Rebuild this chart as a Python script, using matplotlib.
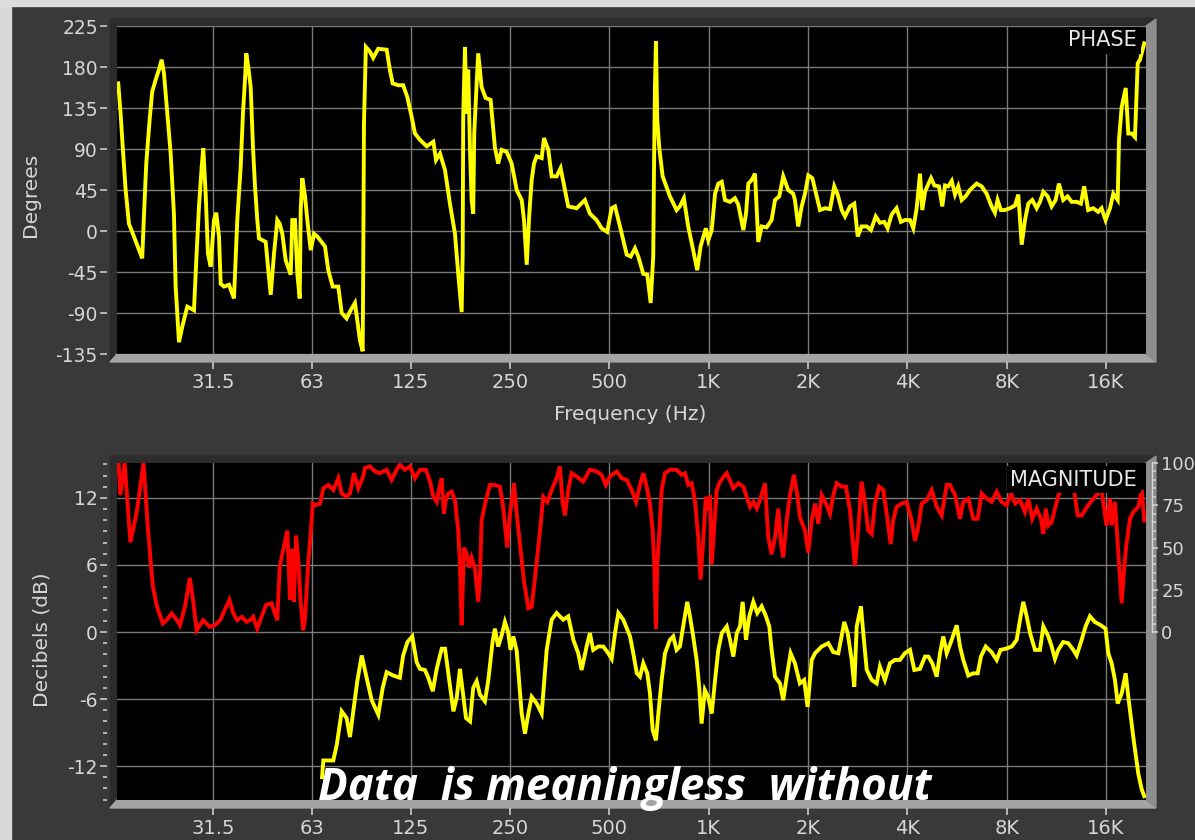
import numpy as np
import matplotlib
matplotlib.use("Agg")
import matplotlib.pyplot as plt
from matplotlib.patches import Polygon, Rectangle
from matplotlib.ticker import FixedLocator, NullLocator, MultipleLocator

# (Hz, degrees)
phase_points = [
    (16.26, 162), (16.53, 129), (16.80, 89), (17.12, 45), (17.52, 8), (18.14, -6), (19.22, -30),
    (19.45, 16), (19.77, 74), (20.24, 122), (20.61, 153), (21.11, 166), (21.60, 177), (22.01, 188),
    (22.37, 173), (22.89, 129), (23.44, 85), (23.98, 19), (24.27, -61), (24.84, -122), (25.42, -105),
    (26.32, -83), (27.58, -87), (28.03, -32), (28.56, 27), (29.10, 70), (29.43, 91), (29.92, 41),
    (30.41, -25), (30.99, -39), (31.71, 12), (32.22, 20), (32.84, -6), (33.23, -58), (34.00, -61),
    (35.21, -59), (36.46, -74), (37.31, 12), (38.20, 70), (38.82, 129), (39.37, 166), (39.73, 195),
    (40.29, 180), (40.97, 158), (41.63, 92), (42.22, 49), (42.90, 12), (43.41, -8), (44.42, -10),
    (45.49, -12), (46.32, -43), (47.11, -70), (48.20, -25), (49.33, 12), (50.16, 8), (51.08, -3),
    (52.30, -32), (54.16, -48), (54.77, 12), (55.81, 12), (56.72, -47), (57.68, -74), (58.08, 23),
    (58.73, 58), (59.85, 38), (60.82, 12), (62.28, -21), (63.73, -3), (65.22, -6), (68.8, -17),
    (70.4, -43), (72.6, -61), (75.5, -61), (77.3, -90), (80.0, -96), (82.3, -87), (84.8, -79),
    (86.2, -98), (87.8, -120), (89.5, -132), (89.8, -50), (90.3, 118), (91.5, 202), (94.1, 197),
    (96.3, 190), (99.7, 200), (105.8, 199), (108.2, 177), (110.3, 162), (114.7, 160), (118.7, 160),
    (122.2, 147), (126.0, 125), (128.9, 107), (133.5, 100), (139.9, 93), (146.5, 98), (149.3, 78),
    (153.5, 85), (158.9, 67), (164.5, 30), (170.4, -3), (174.3, -47), (178.5, -89), (179.8, -25),
    (180.5, 126), (182.7, 202), (184.8, 129), (186.9, 177), (189.1, 92), (191.4, 34), (193.5, 19),
    (194.9, 107), (198.2, 162), (200.4, 195), (205.2, 158), (211.0, 146), (218.5, 144), (225.1, 92),
    (230.3, 74), (235.9, 89), (244.2, 87), (253.1, 74), (262.1, 45), (271.4, 34), (275.8, 12),
    (281.1, -37), (286.2, 19), (291.0, 56), (295.7, 74), (301.3, 82), (312.0, 80), (317.1, 102),
    (326.8, 89), (334.5, 60), (346.3, 60), (356.1, 69), (367.0, 45), (375.5, 27), (398.1, 25),
    (421.8, 34), (436.8, 19), (457.6, 12), (473.9, 3), (492.7, -1), (508.6, 25), (520.4, 27),
    (538.9, 5), (564.7, -26), (580.6, -28), (598.3, -19), (612.2, -28), (634.0, -47), (651.9, -48),
    (667.4, -79), (679.5, -28), (682.9, 63), (687.7, 158), (692.5, 208), (698.8, 122), (708.5, 92),
    (725.6, 60), (742.4, 50), (763.4, 38), (799.8, 23), (818.4, 27), (841.6, 36), (867.2, 5),
    (898.0, -21), (923.5, -43), (945.4, -17), (981.1, 3), (997.8, -10), (1022, 1), (1046, 41),
    (1070, 52), (1096, 54), (1121, 34), (1161, 32), (1202, 36), (1230, 29), (1274, 1), (1298, 19),
    (1319, 52), (1351, 56), (1382, 63), (1414, -12), (1448, 5), (1499, 4), (1552, 12), (1589, 34),
    (1637, 38), (1683, 60), (1742, 45), (1804, 41), (1826, 34), (1869, 5), (1914, 27), (1959, 41),
    (2005, 61), (2062, 58), (2126, 38), (2175, 23), (2252, 25), (2333, 24), (2403, 49), (2461, 40),
    (2531, 23), (2590, 16), (2682, 27), (2763, 30), (2830, -6), (2909, 5), (3014, 5), (3104, 1),
    (3209, 16), (3304, 9), (3406, 10), (3486, 3), (3585, 18), (3711, 25), (3826, 10), (3932, 12),
    (4076, 12), (4171, 3), (4271, 25), (4370, 63), (4440, 23), (4526, 43), (4611, 50), (4719, 58),
    (4830, 50), (4990, 49), (5105, 27), (5203, 50), (5324, 49), (5453, 55), (5580, 40), (5706, 49),
    (5846, 34), (6008, 38), (6191, 45), (6488, 52), (6719, 49), (6956, 41), (7200, 27), (7371, 20),
    (7510, 34), (7683, 23), (7900, 23), (8189, 25), (8479, 28), (8677, 40), (8885, -15), (9091, 12),
    (9304, 30), (9566, 34), (9864, 25), (10094, 32), (10330, 43), (10652, 38), (10949, 27),
    (11258, 34), (11521, 52), (11870, 34), (12240, 38), (12587, 32), (13036, 32), (13428, 30),
    (13740, 49), (14130, 23), (14630, 25), (15148, 21), (15512, 25), (15949, 12), (16452, 25),
    (16834, 41), (17359, 34), (17518, 100), (17849, 136), (18357, 157), (18692, 107), (19138, 107),
    (19583, 103), (19960, 184), (20281, 188), (20897, 206),
]

# (Hz, dB) yellow MAGNITUDE trace, left axis
mag_points = [
    (67.4, -13), (68.0, -11.5), (72.9, -11.5), (74.7, -10.1), (77.3, -7.1), (80.0, -7.7),
    (81.9, -9.4), (83.8, -7.1), (86.2, -4.4), (88.9, -2.1), (92.0, -4.1), (95.3, -6.1),
    (99.8, -7.4), (102.9, -5.0), (105.8, -3.6), (110.8, -3.9), (116.0, -4.1), (118.7, -2.1),
    (122.3, -0.9), (126.5, -0.4), (130.4, -2.7), (133.5, -3.3), (138.2, -3.4), (141.5, -4.1),
    (145.9, -5.3), (150.0, -3.3), (155.3, -1.5), (159.0, -1.5), (163.8, -4.4), (168.5, -7.1),
    (172.5, -5.9), (176.4, -3.3), (179.8, -5.3), (184.0, -7.7), (189.3, -8.0), (193.5, -5.0),
    (198.2, -4.4), (202.8, -5.6), (210.0, -6.2), (214.8, -4.4), (221.5, -0.9), (225.1, 0.3),
    (230.3, -1.3), (235.9, -0.3), (241.4, 0.9), (246.8, 0.0), (251.1, -1.6), (256.0, -0.4),
    (262.1, -1.7), (271.4, -7.3), (277.7, -9.1), (284.3, -7.3), (291.0, -5.8), (301.4, -6.4),
    (312.0, -7.3), (323.1, -1.6), (334.5, 1.1), (346.3, 1.7), (362.6, 1.1), (375.5, 1.4),
    (389.1, -0.7), (402.7, -1.9), (412.3, -3.4), (426.9, -1.3), (436.8, -0.1), (447.0, -1.6),
    (462.7, -1.3), (479.6, -1.3), (496.4, -1.9), (508.6, -2.4), (520.4, -0.1), (532.7, 1.7),
    (551.4, 1.1), (578.1, -0.4), (591.2, -1.9), (605.8, -3.7), (619.6, -4.0), (634.0, -2.8),
    (651.9, -3.7), (664.2, -5.5), (676.9, -8.8), (692.5, -9.7), (704.1, -7.3), (720.6, -4.3),
    (737.6, -1.9), (763.4, -0.7), (781.2, -0.4), (799.8, -1.6), (818.4, -1.3), (837.6, 0.5),
    (861.3, 2.7), (878.0, 1.4), (898.0, -0.4), (919.8, -2.5), (936.4, -4.9), (952.1, -8.2),
    (974.2, -5.2), (996.6, -5.8), (1022, -7.3), (1046, -4.3), (1070, -1.6), (1096, -0.1),
    (1135, 0.5), (1161, -0.7), (1188, -2.2), (1217, -0.1), (1245, 0.5), (1268, 2.7), (1298, -0.7),
    (1328, 1.4), (1366, 2.7), (1404, 1.7), (1448, 2.3), (1492, 1.4), (1527, 0.5), (1552, -1.6),
    (1589, -4.0), (1645, -4.6), (1683, -6.1), (1731, -3.7), (1772, -1.9), (1826, -2.8),
    (1890, -4.6), (1948, -4.3), (1995, -6.7), (2053, -2.5), (2101, -1.9), (2201, -1.3),
    (2305, -1.0), (2386, -1.8), (2472, -1.9), (2577, 0.9), (2639, -0.1), (2713, -2.5),
    (2763, -4.9), (2810, 0.5), (2895, 2.3), (2942, -0.1), (3014, -3.4), (3121, -4.3),
    (3229, -4.6), (3304, -3.1), (3421, -4.3), (3544, -2.8), (3667, -2.5), (3800, -2.5),
    (3932, -1.9), (4076, -1.6), (4201, -3.4), (4370, -3.3), (4526, -2.2), (4633, -2.2),
    (4762, -2.8), (4911, -4.0), (5024, -1.9), (5141, -0.4), (5266, -1.9), (5453, -0.7),
    (5645, 0.6), (5778, -1.3), (5911, -2.5), (6121, -3.9), (6338, -3.7), (6536, -3.7),
    (6685, -2.2), (6911, -1.3), (7201, -1.8), (7463, -2.5), (7665, -1.6), (7944, -1.5),
    (8290, -1.3), (8580, -0.7), (8782, 1.1), (8983, 2.7), (9201, 1.4), (9419, -0.1),
    (9749, -1.6), (10094, -1.6), (10330, 0.5), (10701, -0.4), (10951, -1.3), (11209, -2.4),
    (11467, -1.6), (11870, -0.9), (12298, -1.0), (12733, -1.6), (13036, -2.1), (13499, -0.7),
    (13878, 0.5), (14298, 1.4), (14805, 0.9), (15435, 0.6), (15949, 0.3), (16257, -1.9),
    (16644, -2.8), (17031, -4.3), (17359, -6.4), (17849, -5.5), (18357, -3.7), (18692, -5.8),
    (19354, -9.4), (20047, -12.7), (20531, -14.1), (20897, -14.7),
]

# (Hz, 0-100) red trace, right axis
coh_points = [
    (16.3, 100), (16.5, 81), (17.0, 100), (17.7, 53), (18.5, 71), (19.4, 100), (20.0, 61),
    (20.7, 27), (21.3, 15), (22.2, 5), (22.8, 7), (23.6, 11), (24.3, 8), (25.0, 4), (25.9, 15),
    (26.8, 32), (27.4, 19), (28.1, 1), (29.4, 7), (30.8, 3), (31.9, 4), (33.1, 7), (34.0, 12),
    (35.3, 19), (36.3, 11), (37.3, 7), (38.5, 9), (39.8, 6), (40.8, 7), (41.7, 9), (42.9, 2),
    (44.2, 9), (45.6, 16), (47.4, 17), (48.5, 11), (49.3, 7), (50.2, 39), (51.7, 51), (52.9, 60),
    (53.9, 19), (54.7, 49), (55.4, 18), (56.2, 57), (57.1, 43), (58.0, 19), (59.1, 1), (59.8, 7),
    (61.2, 41), (62.2, 57), (63.2, 76), (64.2, 75), (66.5, 76), (68.0, 85), (70.4, 87), (72.9, 84),
    (75.5, 91), (77.3, 82), (80.0, 80), (81.9, 82), (84.2, 94), (86.8, 85), (89.8, 92), (90.9, 97),
    (94.2, 98), (97.5, 95), (100.9, 94), (105.8, 96), (109.5, 90), (113.4, 96), (116.0, 99),
    (120.1, 96), (124.4, 98), (128.9, 91), (133.5, 96), (139.2, 96), (143.2, 89), (146.5, 80),
    (150.0, 77), (152.7, 85), (155.3, 91), (157.8, 70), (159.7, 78), (162.6, 82), (166.5, 83),
    (170.4, 78), (174.3, 60), (176.4, 40), (178.5, 4), (181.4, 50), (184.9, 46), (188.3, 38),
    (191.4, 44), (195.8, 38), (200.4, 18), (202.8, 32), (205.2, 66), (211.4, 78), (217.4, 87),
    (225.1, 87), (233.1, 86), (238.5, 74), (245.2, 50), (250.2, 70), (257.3, 88), (262.1, 70),
    (268.2, 52), (275.8, 30), (284.3, 14), (291.0, 15), (297.8, 32), (308.4, 60), (315.5, 80),
    (324.5, 77), (334.5, 84), (346.3, 91), (354.4, 98), (361.3, 76), (367.0, 69), (375.5, 84),
    (384.5, 94), (398.1, 92), (416.8, 89), (436.8, 96), (457.6, 95), (473.9, 93), (488.3, 87),
    (502.0, 92), (526.6, 95), (545.2, 91), (564.7, 90), (584.8, 84), (602.6, 77), (619.6, 87),
    (634.0, 94), (649.1, 86), (664.2, 76), (676.9, 60), (684.4, 40), (692.5, 2), (698.8, 40),
    (708.5, 58), (720.6, 84), (737.6, 94), (763.4, 96), (799.8, 96), (828.4, 93), (848.1, 94),
    (867.2, 87), (888.4, 88), (908.9, 78), (930.1, 56), (945.4, 31), (962.9, 54), (981.1, 80),
    (996.6, 72), (1010, 81), (1022, 40), (1038, 60), (1058, 84), (1083, 89), (1121, 93),
    (1135, 94), (1188, 85), (1230, 88), (1274, 86), (1304, 80), (1335, 74), (1366, 77),
    (1399, 73), (1431, 78), (1482, 88), (1516, 56), (1552, 46), (1589, 56), (1626, 73),
    (1653, 54), (1683, 44), (1723, 66), (1764, 81), (1813, 93), (1857, 81), (1890, 68),
    (1959, 60), (2004, 47), (2053, 66), (2101, 76), (2149, 64), (2201, 81), (2268, 76),
    (2333, 70), (2386, 81), (2444, 88), (2531, 86), (2607, 86), (2682, 72), (2732, 54),
    (2777, 39), (2842, 62), (2909, 89), (2978, 76), (3046, 60), (3121, 58), (3191, 76),
    (3288, 86), (3383, 84), (3463, 70), (3562, 52), (3624, 66), (3711, 74), (3842, 76),
    (3979, 77), (4125, 66), (4221, 54), (4318, 62), (4423, 76), (4580, 78), (4742, 84),
    (4911, 74), (5084, 69), (5266, 87), (5387, 87), (5580, 81), (5778, 67), (5911, 77),
    (6121, 79), (6338, 67), (6536, 67), (6717, 82), (6955, 79), (7201, 77), (7463, 83),
    (7721, 77), (8000, 75), (8249, 82), (8483, 76), (8782, 78), (9088, 71), (9306, 79),
    (9564, 67), (9862, 73), (10161, 67), (10330, 58), (10507, 73), (10701, 63), (10951, 65),
    (11209, 73), (11523, 82), (11870, 84), (12298, 84), (12676, 90), (13128, 69), (13499, 69),
    (14128, 75), (14805, 80), (15515, 84), (16055, 63), (16451, 79), (16644, 63), (17031, 77),
    (17434, 47), (17849, 17), (18176, 39), (18483, 53), (18918, 67), (19354, 71), (20047, 74),
    (20531, 84), (20897, 66),
]

freq_ticks = [31.5, 63, 125, 250, 500, 1000, 2000, 4000, 8000, 16000]
freq_labels = ["31.5", "63", "125", "250", "500", "1K", "2K", "4K", "8K", "16K"]
phase_ticks = [-135, -90, -45, 0, 45, 90, 135, 180, 225]
db_ticks = [-12, -6, 0, 6, 12]
coh_ticks = [0, 25, 50, 75, 100]
coh_minor = [v for v in range(5, 100, 5) if v % 25]

phase_hz, phase_deg = np.array(phase_points).T
mag_hz, mag_db = np.array(mag_points).T
coh_hz, coh_val = np.array(coh_points).T

W, H = 1195, 840
TEXT = "#d6d6d6"
GRID = "#7a7a7a"
YELLOW = "#ffff00"
RED = "#ff0000"
LW = 2.8

plt.rcParams["font.family"] = ["DejaVu Sans"]
plt.rcParams["axes.unicode_minus"] = False

fig = plt.figure(figsize=(W / 100, H / 100), dpi=100, facecolor="#393939")

# backdrop: light page edge and the 3d frames behind each plot
bg = fig.add_axes([0, 0, 1, 1], zorder=-5)
bg.set_xlim(0, W)
bg.set_ylim(H, 0)
bg.axis("off")
bg.add_patch(Rectangle((0, 0), 11, H, color="#d8d8d8"))
bg.add_patch(Rectangle((0, 0), W, 6, color="#dcdcdc"))


def frame(x0, x1, y0, y1):
    bg.add_patch(Rectangle((x0 - 7, y0 - 8), x1 - x0 + 17, y1 - y0 + 16, color="#2c2c2c"))
    bg.add_patch(Polygon([(x0 - 7, y1 + 8), (x0, y1), (x1, y1), (x1 + 10, y1 + 8)],
                         closed=True, color="#a4a4a4"))
    bg.add_patch(Polygon([(x1, y0), (x1 + 10, y0 - 7), (x1 + 10, y1 + 8), (x1, y1)],
                         closed=True, color="#8e8e8e"))


frame(117, 1146, 26, 354)
frame(117, 1146, 463, 800)


def style(ax):
    ax.set_facecolor("black")
    ax.set_xscale("log")
    ax.set_xlim(16.12, 21150)
    ax.xaxis.set_major_locator(FixedLocator(freq_ticks))
    ax.xaxis.set_minor_locator(NullLocator())
    ax.set_xticklabels(freq_labels)
    for s in ax.spines.values():
        s.set_edgecolor("none")
    ax.spines["left"].set_position(("outward", 7.5))
    ax.spines["bottom"].set_position(("outward", 6))
    ax.grid(True, color=GRID, lw=1.0)
    ax.set_axisbelow(True)
    ax.tick_params(colors=TEXT, width=1.1)
    ax.tick_params(axis="x", length=5, pad=3, labelsize=14)
    ax.tick_params(axis="y", which="major", length=4.8, pad=1.5, labelsize=13.5)


ax1 = fig.add_axes([117 / W, 1 - 354 / H, 1029 / W, 328 / H], zorder=1)
style(ax1)
ax1.set_ylim(-135, 225)
ax1.set_yticks(phase_ticks)
ax1.plot(phase_hz, phase_deg, color=YELLOW, lw=LW, solid_joinstyle="miter", zorder=3)
ax1.text(0.9913, 0.957, "PHASE", transform=ax1.transAxes, ha="right", va="center",
         fontsize=15, color="#e8e8e8", zorder=6,
         bbox=dict(facecolor="black", edgecolor="none", pad=2.5))

ax2 = fig.add_axes([117 / W, 1 - 800 / H, 1029 / W, 337 / H], zorder=1)
style(ax2)
ax2.set_ylim(-15.04, 15.13)
ax2.set_yticks(db_ticks)
ax2.yaxis.set_minor_locator(MultipleLocator(1))
ax2.tick_params(axis="y", which="minor", length=3, width=1.1, colors=TEXT)
ax2.plot(mag_hz, mag_db, color=YELLOW, lw=LW, solid_joinstyle="miter", zorder=3)

ax2r = ax2.twinx()
ax2r.set_zorder(2)
ax2r.patch.set_visible(False)
ax2r.set_ylim(-99.4, 100)
for s in ax2r.spines.values():
    s.set_edgecolor("none")
ax2r.spines["right"].set_edgecolor(TEXT)
ax2r.spines["right"].set_linewidth(1.0)
ax2r.spines["right"].set_position(("outward", 4.5))
ax2r.spines["right"].set_bounds(0, 100)
ax2r.set_yticks(coh_ticks)
ax2r.yaxis.set_minor_locator(FixedLocator(coh_minor))
ax2r.tick_params(axis="y", which="major", length=4.5, width=1.1, pad=2, colors=TEXT, labelsize=13)
ax2r.tick_params(axis="y", which="minor", length=3, width=1.1, colors=TEXT)
ax2r.plot(coh_hz, coh_val, color=RED, lw=LW, solid_joinstyle="miter", zorder=3)
ax2r.text(0.9913, 0.950, "MAGNITUDE", transform=ax2r.transAxes, ha="right", va="center",
          fontsize=15, color="#e8e8e8", zorder=6,
          bbox=dict(facecolor="black", edgecolor="none", pad=2.5))

fig.text(630 / W, 1 - 414 / H, "Frequency (Hz)", ha="center", va="center",
         fontsize=14.5, color=TEXT)
fig.text(30 / W, 1 - 195 / H, "Degrees", ha="center", va="center", rotation=90,
         fontsize=14.5, color=TEXT)
fig.text(42 / W, 1 - 640 / H, "Decibels (dB)", ha="center", va="center", rotation=90,
         fontsize=14.5, color=TEXT)

fig.text(318 / W, 1 - 800 / H, "Data  is meaningless  without", ha="left", va="baseline",
         fontsize=31.7, fontweight="bold", fontstyle="italic", family=["Open Sans", "DejaVu Sans"],
         color="white", zorder=20)

fig.savefig("out.png", dpi=100, facecolor=fig.get_facecolor())
